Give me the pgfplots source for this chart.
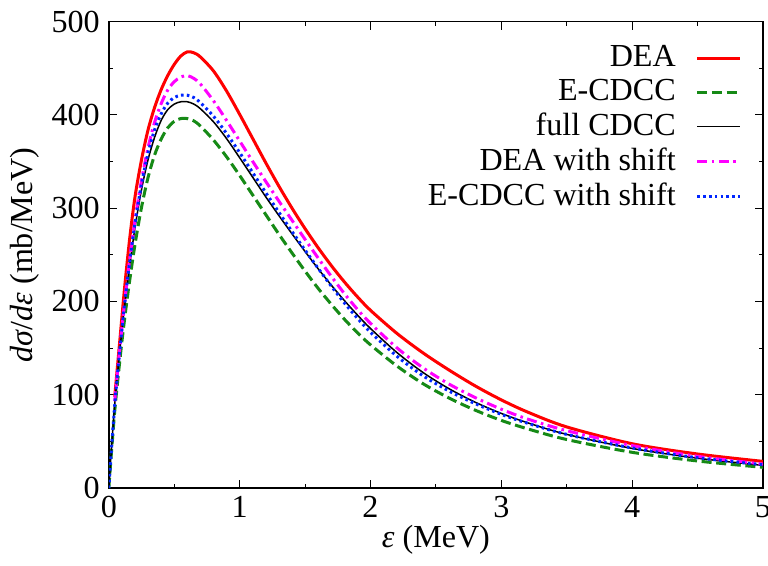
\documentclass[border=0pt]{standalone}
\usepackage{fontspec}
\setmainfont{Liberation Serif}
\usepackage{pgfplots}
\pgfplotsset{compat=1.18}
\definecolor{cdea}{HTML}{FF0000}
\definecolor{cecdcc}{HTML}{168A16}
\definecolor{cshift}{HTML}{FF00FF}
\definecolor{cecshift}{HTML}{0026FF}

\begin{document}
\fontsize{16}{19}\selectfont
\begin{tikzpicture}
\begin{axis}[
  name=ax,
  scale only axis,
  width=326pt, height=232.5pt,
  xmin=0, xmax=5, ymin=0, ymax=500,
  xtick={0,1,2,3,4,5}, ytick={0,100,200,300,400,500},
  minor x tick num=1, minor y tick num=1,
  tick align=inside,
  major tick length=4pt, minor tick length=2.2pt,
  tick style={black, line width=0.5pt},
  axis line style={line width=0.7pt},
  /pgf/number format/assume math mode=true,
  ticklabel style={font=\fontsize{16}{19}\selectfont},
  xticklabel style={yshift=1.5pt},
  yticklabel style={xshift=1pt},
  xlabel={{\itshape ε} (MeV)},
  ylabel={{\itshape dσ}/{\itshape dε} (mb/MeV)},
  xlabel style={yshift=7pt},
  ylabel style={yshift=-5pt},
  legend plot pos=right,
  legend cell align=right,
  legend style={draw=none, fill=none, at={(axis description cs:0.968,0.958)}, anchor=north east,
    font=\fontsize{16}{19}\selectfont, row sep=-0.2pt, column sep=8pt, inner sep=0pt},
  legend image code/.code={\draw[#1] (0cm,0cm) -- (0.75cm,0cm);},
]
% DEA
\addplot[cdea, line width=1.5pt, smooth] coordinates {
  (0.045,98) (0.08,152) (0.12,214) (0.16,268) (0.2,312) (0.25,352) (0.3,384)
  (0.35,408) (0.4,427) (0.45,442) (0.5,454) (0.55,463) (0.6,467.5) (0.65,466.5)
  (0.7,462) (0.8,447) (0.9,425.5) (1.0,400.5) (1.1,374.5) (1.2,348.5) (1.3,323.5)
  (1.4,300) (1.5,278) (1.6,257.5) (1.7,238.5) (1.8,221) (1.9,205) (2.0,190.5)
  (2.2,166) (2.4,145) (2.6,126.5) (2.8,109.5) (3.0,94.5) (3.2,81.5) (3.5,65.5)
  (4.0,47.5) (4.5,36.5) (5.0,28.6)
};
\addlegendentry{DEA}
% E-CDCC
\addplot[cecdcc, line width=1.5pt, dash pattern=on 5pt off 2.3pt, smooth] coordinates {
  (0,0) (0.02,38) (0.05,90) (0.1,157) (0.15,213) (0.2,261) (0.25,301) (0.3,333)
  (0.35,357) (0.4,374) (0.45,386) (0.5,393) (0.55,396) (0.6,396) (0.65,393.5)
  (0.7,388) (0.8,373) (0.9,355) (1.0,335) (1.1,314) (1.2,293) (1.3,272)
  (1.4,252) (1.5,232.5) (1.6,214) (1.7,197) (1.8,181) (1.9,166.5) (2.0,153.5)
  (2.2,131) (2.4,112) (2.6,96.5) (2.8,83.5) (3.0,72.5) (3.2,63.5) (3.5,52)
  (4.0,38.3) (4.5,29) (5.0,22.2)
};
\addlegendentry{E-CDCC}
% full CDCC
\addplot[black, line width=0.75pt, smooth] coordinates {
  (0,0) (0.02,42) (0.05,98) (0.1,169) (0.15,229) (0.2,279) (0.25,320) (0.3,352)
  (0.35,376) (0.4,394) (0.45,405.5) (0.5,411.5) (0.55,414) (0.6,414) (0.65,411.5)
  (0.7,406.5) (0.8,392.5) (0.9,374.5) (1.0,354) (1.1,333) (1.2,312) (1.3,292)
  (1.4,272.5) (1.5,253.5) (1.6,235) (1.7,217.5) (1.8,201) (1.9,185.5) (2.0,171)
  (2.2,145.5) (2.4,124) (2.6,106.5) (2.8,92) (3.0,80) (3.2,70) (3.5,57.5)
  (4.0,42.5) (4.5,32) (5.0,24.3)
};
\addlegendentry{full CDCC}
% DEA with shift
\addplot[cshift, line width=1.5pt, dash pattern=on 5pt off 2.2pt on 1.3pt off 2.2pt, smooth] coordinates {
  (0.045,93) (0.07,130) (0.1,172) (0.15,235) (0.2,287) (0.25,330) (0.3,365)
  (0.35,392) (0.4,412) (0.45,426.5) (0.5,435.5) (0.55,440.5) (0.6,442) (0.65,439)
  (0.7,433) (0.8,415) (0.9,394) (1.0,372) (1.1,350) (1.2,328.5) (1.3,307.5)
  (1.4,287) (1.5,266.5) (1.6,246.5) (1.7,227) (1.8,208.5) (1.9,191.5) (2.0,176.5)
  (2.2,150.5) (2.4,129) (2.6,111.5) (2.8,97) (3.0,84.5) (3.2,74) (3.5,61.5)
  (4.0,45.5) (4.5,34) (5.0,25.7)
};
\addlegendentry{DEA with shift}
% E-CDCC with shift
\addplot[cecshift, line width=1.5pt, dash pattern=on 1.3pt off 1.6pt, smooth] coordinates {
  (0,0) (0.02,41) (0.05,97) (0.1,170) (0.15,232) (0.2,284) (0.25,326) (0.3,359)
  (0.35,384) (0.4,401) (0.45,412.5) (0.5,418.5) (0.55,421) (0.6,421) (0.65,418.5)
  (0.7,413) (0.8,398.5) (0.9,380) (1.0,359.5) (1.1,338) (1.2,316.5) (1.3,295.5)
  (1.4,275) (1.5,255) (1.6,235.5) (1.7,216.5) (1.8,198.5) (1.9,182) (2.0,167)
  (2.2,141.5) (2.4,120.5) (2.6,104) (2.8,90.5) (3.0,79) (3.2,69.5) (3.5,57.5)
  (4.0,43) (4.5,32.5) (5.0,25)
};
\addlegendentry{E-CDCC with shift}
\end{axis}
\pgfresetboundingbox
\path[use as bounding box] (ax.outer south west) rectangle ([xshift=2.5pt]ax.south east |- ax.outer north east);
\end{tikzpicture}
\end{document}
